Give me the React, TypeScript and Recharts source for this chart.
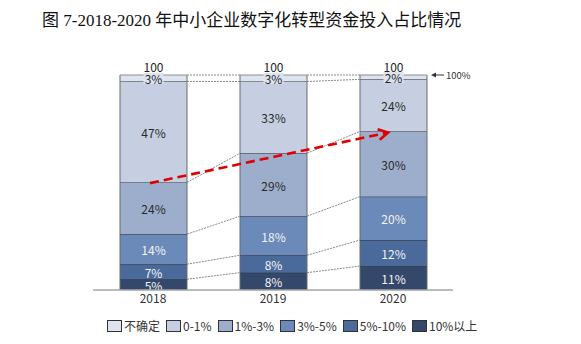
import React from "react";
import { BarChart, Bar, XAxis, YAxis, ReferenceLine } from "recharts";

const years = ["2018", "2019", "2020"];
// stacking order, bottom to top
const seriesNames = ["10%以上", "5%-10%", "3%-5%", "1%-3%", "0-1%", "不确定"];
const over10 = [5, 8, 11];
const from5to10 = [7, 8, 12];
const from3to5 = [14, 18, 20];
const from1to3 = [24, 29, 30];
const from0to1 = [47, 33, 24];
const unsure = [3, 3, 2];
const totals = [100, 100, 100];

const seriesValues = [over10, from5to10, from3to5, from1to3, from0to1, unsure];
const colors = ["#34486b", "#4a6a9c", "#6b8aba", "#9daecc", "#c5cfe1", "#dde4ef"];
const labelColors = ["#f4f4f4", "#f4f4f4", "#f4f4f4", "#2a2a2a", "#2a2a2a", "#2a2a2a"];

const data = years.map((year, i) => {
  const row: Record<string, string | number> = { year };
  seriesValues.forEach((vals, s) => {
    row["k" + s] = vals[i];
  });
  return row;
});

// share of companies investing 1% or more (top of the 1%-3% segment)
const rowSum = (i: number) => seriesValues.reduce((a, vals) => a + vals[i], 0);
const cumTo1to3 = (i: number) => (over10[i] + from5to10[i] + from3to5[i] + from1to3[i]) / rowSum(i);

const font = "'Noto Sans CJK SC', 'Noto Sans', sans-serif";
const topIdx = seriesValues.length - 1;

type R = { x: number; y: number; w: number; h: number };
const rectsBySeries: Record<number, R[]> = {};

function makeShape(s: number) {
  return (props: any) => {
    const { x, y, width, height, index } = props;
    if (index === 0 || !rectsBySeries[s]) rectsBySeries[s] = [];
    rectsBySeries[s][index] = { x, y, w: width, h: height };
    const prev = index > 0 ? rectsBySeries[s][index - 1] : null;
    const cx = x + width / 2;
    const cy = y + height / 2;
    const isTop = s === topIdx;
    return (
      <g>
        <rect x={x} y={y} width={width} height={height} fill={colors[s]} />
        <line x1={x} y1={y} x2={x} y2={y + height} stroke="#6a6a6a" />
        <line x1={x + width} y1={y} x2={x + width} y2={y + height} stroke="#6a6a6a" />
        <line x1={x} y1={y} x2={x + width} y2={y} stroke={isTop ? "#8c8c8c" : "#2b2b2b"} />
        {prev && (
          <line
            x1={prev.x + prev.w}
            y1={prev.y}
            x2={x}
            y2={y}
            stroke="#8a8a8a"
            strokeDasharray="2 1"
          />
        )}
        {isTop && <rect x={cx - 10} y={cy - 5.5} width={20} height={11} fill={colors[s]} />}
        <text
          x={cx}
          y={cy + 0.5}
          textAnchor="middle"
          dominantBaseline="central"
          fontSize={12}
          fontFamily={font}
          fill={labelColors[s]}
        >
          {seriesValues[s][index]}%
        </text>
        {isTop && (
          <text x={cx} y={y - 9} textAnchor="middle" dominantBaseline="central" fontSize={12} fontFamily={font} fill="#222">
            {totals[index]}
          </text>
        )}
        {isTop && index === years.length - 1 && (
          <g>
            <line x1={x + width + 8} y1={y} x2={x + width + 17} y2={y} stroke="#333" strokeWidth={1} />
            <path d={`M${x + width + 4},${y} L${x + width + 9},${y - 2.5} L${x + width + 9},${y + 2.5} Z`} fill="#333" />
            <text x={x + width + 19} y={y} dominantBaseline="central" fontSize={9.5} fontFamily={font} fill="#333">
              100%
            </text>
          </g>
        )}
      </g>
    );
  };
}

function TrendArrow(props: any) {
  const { x1, y1, x2, y2 } = props;
  const dx = x2 - x1;
  const dy = y2 - y1;
  const len = Math.sqrt(dx * dx + dy * dy);
  const ux = dx / len;
  const uy = dy / len;
  const sx = x1 - ux * 3;
  const sy = y1 - uy * 3;
  const tx = x2 - ux * 5;
  const ty = y2 - uy * 5;
  const arm = 11;
  const ang = 0.5;
  const ax1 = tx - arm * (ux * Math.cos(ang) - uy * Math.sin(ang));
  const ay1 = ty - arm * (uy * Math.cos(ang) + ux * Math.sin(ang));
  const ax2 = tx - arm * (ux * Math.cos(-ang) - uy * Math.sin(-ang));
  const ay2 = ty - arm * (uy * Math.cos(-ang) + ux * Math.sin(-ang));
  return (
    <g>
      <line x1={sx} y1={sy} x2={tx - ux * 1.5} y2={ty - uy * 1.5} stroke="#e00000" strokeWidth={2.6} strokeDasharray="9 5" />
      <polyline
        points={`${ax1},${ay1} ${tx},${ty} ${ax2},${ay2}`}
        fill="none"
        stroke="#e00000"
        strokeWidth={2.6}
      />
    </g>
  );
}

function LegendRow() {
  const order = [...seriesNames.keys()].reverse();
  return (
    <div
      style={{
        position: "absolute",
        left: 107,
        top: 319,
        display: "flex",
        alignItems: "center",
        fontFamily: font,
        fontSize: 12,
        color: "#333",
      }}
    >
      {order.map((s) => (
        <div key={s} style={{ display: "flex", alignItems: "center", marginRight: 6 }}>
          <span
            style={{
              display: "inline-block",
              width: 13,
              height: 10,
              background: colors[s],
              border: "1px solid #333",
              marginRight: 2,
            }}
          />
          <span style={{ lineHeight: "14px" }}>{seriesNames[s]}</span>
        </div>
      ))}
    </div>
  );
}

export default function App() {
  return (
    <div style={{ position: "absolute", left: 0, top: 0, width: 581, height: 344, background: "#fff" }}>
      <div
        style={{
          position: "absolute",
          left: 42,
          top: 11,
          fontFamily: "'Liberation Serif', 'Noto Sans CJK SC', serif",
          fontSize: 17,
          lineHeight: "20px",
          color: "#111",
          whiteSpace: "nowrap",
        }}
      >
        图 7-2018-2020 年中小企业数字化转型资金投入占比情况
      </div>
      <BarChart
        width={581}
        height={344}
        data={data}
        stackOffset="expand"
        barSize={67}
        margin={{ top: 75, right: 128, left: 93, bottom: 34 }}
      >
        <XAxis
          dataKey="year"
          height={20}
          tickLine={false}
          tickSize={0}
          tickMargin={4}
          axisLine={{ stroke: "#a6a6a6", strokeWidth: 1.5 }}
          tick={{ fontSize: 12, fill: "#333", fontFamily: font }}
        />
        <YAxis hide domain={[0, 1]} />
        {seriesNames.map((name, s) => (
          <Bar
            key={name}
            dataKey={"k" + s}
            name={name}
            stackId="a"
            fill={colors[s]}
            shape={makeShape(s)}
            isAnimationActive={false}
          />
        ))}
        <ReferenceLine
          segment={[
            { x: years[0], y: cumTo1to3(0) },
            { x: years[2], y: cumTo1to3(2) },
          ]}
          shape={TrendArrow}
        />
      </BarChart>
      <LegendRow />
    </div>
  );
}
